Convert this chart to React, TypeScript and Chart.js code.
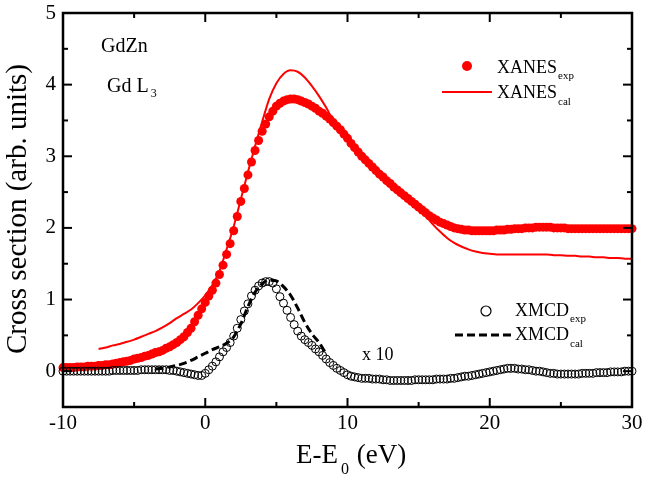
import React, { useEffect, useRef } from "react";
import { Chart, registerables } from "chart.js";

Chart.register(...registerables);

// Energy grid of the experimental spectra (eV, relative to E0)
const ENERGY = [
  -10, -9.75, -9.5, -9.25, -9, -8.75, -8.5, -8.25, -8, -7.75, -7.5, -7.25,
  -7, -6.75, -6.5, -6.25, -6, -5.75, -5.5, -5.25, -5, -4.75, -4.5, -4.25,
  -4, -3.75, -3.5, -3.25, -3, -2.75, -2.5, -2.25, -2, -1.75, -1.5, -1.25,
  -1, -0.75, -0.5, -0.25, 0, 0.25, 0.5, 0.75, 1, 1.25, 1.5, 1.75,
  2, 2.25, 2.5, 2.75, 3, 3.25, 3.5, 3.75, 4, 4.25, 4.5, 4.75,
  5, 5.25, 5.5, 5.75, 6, 6.25, 6.5, 6.75, 7, 7.25, 7.5, 7.75,
  8, 8.25, 8.5, 8.75, 9, 9.25, 9.5, 9.75, 10, 10.25, 10.5, 10.75,
  11, 11.25, 11.5, 11.75, 12, 12.25, 12.5, 12.75, 13, 13.25, 13.5, 13.75,
  14, 14.25, 14.5, 14.75, 15, 15.25, 15.5, 15.75, 16, 16.25, 16.5, 16.75,
  17, 17.25, 17.5, 17.75, 18, 18.25, 18.5, 18.75, 19, 19.25, 19.5, 19.75,
  20, 20.25, 20.5, 20.75, 21, 21.25, 21.5, 21.75, 22, 22.25, 22.5, 22.75,
  23, 23.25, 23.5, 23.75, 24, 24.25, 24.5, 24.75, 25, 25.25, 25.5, 25.75,
  26, 26.25, 26.5, 26.75, 27, 27.25, 27.5, 27.75, 28, 28.25, 28.5, 28.75,
  29, 29.25, 29.5, 29.75, 30,
];

const XANES_EXP = [
  0.05, 0.05, 0.05, 0.05, 0.06, 0.06, 0.06, 0.07, 0.07, 0.07, 0.08, 0.08,
  0.09, 0.09, 0.10, 0.11, 0.12, 0.13, 0.14, 0.15, 0.17, 0.18, 0.19, 0.21,
  0.22, 0.24, 0.26, 0.27, 0.29, 0.32, 0.34, 0.37, 0.40, 0.44, 0.48, 0.54,
  0.60, 0.69, 0.78, 0.87, 0.96, 1.05, 1.13, 1.23, 1.35, 1.48, 1.63, 1.78,
  1.96, 2.16, 2.37, 2.55, 2.74, 2.92, 3.08, 3.22, 3.35, 3.45, 3.55, 3.63,
  3.70, 3.74, 3.77, 3.79, 3.80, 3.80, 3.79, 3.77, 3.75, 3.73, 3.70, 3.67,
  3.63, 3.60, 3.56, 3.52, 3.47, 3.42, 3.37, 3.31, 3.25, 3.18, 3.12, 3.06,
  3.00, 2.95, 2.90, 2.85, 2.80, 2.75, 2.71, 2.66, 2.62, 2.57, 2.53, 2.49,
  2.45, 2.41, 2.37, 2.33, 2.29, 2.25, 2.21, 2.17, 2.14, 2.11, 2.08, 2.06,
  2.04, 2.02, 2.00, 1.99, 1.98, 1.97, 1.97, 1.96, 1.96, 1.96, 1.96, 1.96,
  1.96, 1.96, 1.97, 1.97, 1.97, 1.98, 1.98, 1.99, 1.99, 1.99, 2.00, 2.00,
  2.00, 2.01, 2.01, 2.01, 2.01, 2.01, 2.00, 2.00, 2.00, 2.00, 1.99, 1.99,
  1.99, 1.99, 1.99, 1.99, 1.99, 1.99, 1.99, 1.99, 1.99, 1.99, 1.99, 1.99,
  1.99, 1.99, 1.99, 1.99, 1.99,
];

const XMCD_EXP = [
  0.00, 0.00, 0.00, 0.00, 0.00, 0.00, 0.00, 0.00, 0.00, 0.00, 0.00, 0.00,
  0.00, 0.00, 0.01, 0.01, 0.01, 0.01, 0.01, 0.01, 0.01, 0.01, 0.02, 0.02,
  0.02, 0.02, 0.02, 0.02, 0.02, 0.02, 0.01, 0.01, 0.00, -0.01, -0.02, -0.03,
  -0.04, -0.05, -0.06, -0.06, -0.03, 0.02, 0.07, 0.13, 0.20, 0.27, 0.33, 0.40,
  0.49, 0.60, 0.72, 0.84, 0.94, 1.05, 1.13, 1.19, 1.23, 1.25, 1.25, 1.23,
  1.15, 1.04, 0.95, 0.85, 0.75, 0.65, 0.56, 0.49, 0.44, 0.40, 0.36, 0.31,
  0.27, 0.22, 0.17, 0.12, 0.08, 0.04, 0.01, -0.02, -0.05, -0.07, -0.08, -0.09,
  -0.10, -0.10, -0.10, -0.11, -0.11, -0.11, -0.12, -0.12, -0.13, -0.13, -0.13, -0.13,
  -0.13, -0.13, -0.13, -0.12, -0.12, -0.12, -0.12, -0.12, -0.12, -0.11, -0.11, -0.11,
  -0.11, -0.10, -0.10, -0.09, -0.08, -0.07, -0.07, -0.06, -0.05, -0.04, -0.03, -0.02,
  -0.01, 0.00, 0.01, 0.02, 0.03, 0.04, 0.04, 0.04, 0.03, 0.03, 0.02, 0.02,
  0.01, 0.00, 0.00, -0.01, -0.02, -0.03, -0.03, -0.04, -0.04, -0.04, -0.04, -0.04,
  -0.04, -0.04, -0.03, -0.03, -0.03, -0.03, -0.02, -0.02, -0.02, -0.02, -0.01, -0.01,
  -0.01, -0.01, 0.00, 0.00, 0.00,
];

// Calculated spectra
const XANES_CAL_ENERGY = [
  -7.5, -7, -6.5, -6, -5.5, -5, -4.5, -4, -3.5, -3, -2.5, -2, -1.5, -1, -0.5,
  0, 0.5, 1, 1.5, 2, 2.5, 3, 3.5, 4, 4.5, 5, 5.5, 6, 6.5, 7, 7.5, 8, 8.5, 9, 9.5,
  10, 10.5, 11, 11.5, 12, 12.5, 13, 13.5, 14, 14.5, 15, 15.5, 16, 16.5, 17, 17.5,
  18, 18.5, 19, 19.5, 20, 20.5, 21, 21.5, 22, 22.5, 23, 23.5, 24, 24.5, 25, 25.5,
  26, 26.5, 27, 27.5, 28, 28.5, 29, 29.5, 30,
];
const XANES_CAL = [
  0.31, 0.33, 0.36, 0.38, 0.41, 0.44, 0.48, 0.52, 0.56, 0.61, 0.67, 0.74, 0.80, 0.86, 0.95,
  1.06, 1.20, 1.40, 1.70, 2.02, 2.40, 2.78, 3.14, 3.48, 3.80, 4.02, 4.15, 4.20, 4.18, 4.10, 3.98, 3.84, 3.68, 3.50, 3.36,
  3.24, 3.11, 2.99, 2.89, 2.79, 2.70, 2.61, 2.52, 2.43, 2.35, 2.27, 2.17, 2.05, 1.95, 1.86, 1.79,
  1.74, 1.70, 1.67, 1.65, 1.64, 1.63, 1.63, 1.63, 1.63, 1.63, 1.63, 1.63, 1.63, 1.62, 1.62, 1.61,
  1.61, 1.60, 1.60, 1.59, 1.59, 1.58, 1.58, 1.57, 1.57,
];

const XMCD_CAL_ENERGY = [
  -3.5, -3, -2.5, -2, -1.5, -1, -0.5, 0, 0.5, 1, 1.5, 2, 2.5, 3, 3.5, 4, 4.5, 5,
  5.5, 6, 6.5, 7, 7.5, 8, 8.5,
];
const XMCD_CAL = [
  0.03, 0.04, 0.06, 0.08, 0.11, 0.15, 0.20, 0.25, 0.30, 0.34, 0.39, 0.48, 0.66, 0.90, 1.10, 1.22, 1.27, 1.26,
  1.18, 1.06, 0.88, 0.68, 0.52, 0.40, 0.24,
];

const X_MAJOR = [-10, 0, 10, 20, 30];
const X_MINOR = [-5, 5, 15, 25];
const Y_MAJOR = [0, 1, 2, 3, 4, 5];
const Y_MINOR = [0.5, 1.5, 2.5, 3.5, 4.5];

const SERIF = "'Liberation Serif', 'Times New Roman', serif";
const RED = "#ff0000";

function pairs(xs: number[], ys: number[]) {
  return xs.map((x, i) => ({ x, y: ys[i] }));
}

function drawSub(
  ctx: CanvasRenderingContext2D,
  main: string,
  sub: string,
  x: number,
  base: number,
  size: number,
  subSize: number,
  subDrop: number,
  gap = 1
) {
  ctx.font = `${size}px ${SERIF}`;
  ctx.textAlign = "left";
  ctx.textBaseline = "alphabetic";
  ctx.fillText(main, x, base);
  const w = ctx.measureText(main).width;
  ctx.font = `${subSize}px ${SERIF}`;
  ctx.fillText(sub, x + w + gap, base + subDrop);
  return x + w + gap + ctx.measureText(sub).width;
}

const framePlugin = {
  id: "frameAndText",
  afterDraw(chart: any) {
    const { ctx, chartArea: a, scales } = chart;
    const xs = scales.x;
    const ys = scales.y;
    ctx.save();
    ctx.strokeStyle = "#000";
    ctx.fillStyle = "#000";
    ctx.lineWidth = 2.5;
    ctx.strokeRect(a.left, a.top, a.right - a.left, a.bottom - a.top);

    ctx.lineWidth = 2;
    const seg = (x1: number, y1: number, x2: number, y2: number) => {
      ctx.beginPath();
      ctx.moveTo(x1, y1);
      ctx.lineTo(x2, y2);
      ctx.stroke();
    };
    X_MAJOR.forEach((v) => {
      const p = xs.getPixelForValue(v);
      seg(p, a.bottom, p, a.bottom - 9);
      seg(p, a.top, p, a.top + 9);
    });
    X_MINOR.forEach((v) => {
      const p = xs.getPixelForValue(v);
      seg(p, a.bottom, p, a.bottom - 5);
      seg(p, a.top, p, a.top + 5);
    });
    Y_MAJOR.forEach((v) => {
      const p = ys.getPixelForValue(v);
      seg(a.left, p, a.left + 9, p);
      seg(a.right, p, a.right - 9, p);
    });
    Y_MINOR.forEach((v) => {
      const p = ys.getPixelForValue(v);
      seg(a.left, p, a.left + 5, p);
      seg(a.right, p, a.right - 5, p);
    });

    // Axis titles
    ctx.fillStyle = "#000";
    const end = drawSub(ctx, "E-E", "0", 296, 463, 27, 16, 11, 3);
    ctx.font = `27px ${SERIF}`;
    ctx.fillText(" (eV)", end + 1, 463);

    ctx.save();
    ctx.translate(26, 354);
    ctx.rotate(-Math.PI / 2);
    ctx.font = `29px ${SERIF}`;
    ctx.textAlign = "left";
    ctx.textBaseline = "alphabetic";
    ctx.fillText("Cross section (arb. units)", 0, 0);
    ctx.restore();

    // Annotations
    ctx.font = `20px ${SERIF}`;
    ctx.fillText("GdZn", 101, 52);
    drawSub(ctx, "Gd L", "3", 107, 92, 20, 12, 5, 2);
    ctx.font = `18px ${SERIF}`;
    ctx.fillText("x 10", 362, 360);

    // Legend
    const ds = chart.data.datasets;
    // XANES exp
    ctx.fillStyle = ds[0].backgroundColor;
    ctx.beginPath();
    ctx.arc(467, 66, 5, 0, Math.PI * 2);
    ctx.fill();
    ctx.fillStyle = "#000";
    drawSub(ctx, ds[0].label, "exp", 497, 73, 18, 11, 6, 1);
    // XANES cal
    ctx.strokeStyle = ds[1].borderColor;
    ctx.lineWidth = ds[1].borderWidth;
    seg(442, 92, 492, 92);
    drawSub(ctx, ds[1].label, "cal", 497, 98, 18, 11, 7, 1);
    // XMCD exp
    ctx.strokeStyle = ds[2].borderColor;
    ctx.lineWidth = 1.2;
    ctx.beginPath();
    ctx.arc(486, 311, 5, 0, Math.PI * 2);
    ctx.stroke();
    drawSub(ctx, ds[2].label, "exp", 515, 316, 18, 11, 6, 1);
    // XMCD cal
    ctx.strokeStyle = ds[3].borderColor;
    ctx.lineWidth = ds[3].borderWidth;
    ctx.setLineDash(ds[3].borderDash);
    seg(455, 335, 512, 335);
    ctx.setLineDash([]);
    drawSub(ctx, ds[3].label, "cal", 515, 340, 18, 11, 7, 1);

    ctx.restore();
  },
};

export default function App() {
  const ref = useRef<HTMLCanvasElement | null>(null);

  useEffect(() => {
    if (!ref.current) return;
    const tickFont = { family: SERIF, size: 21 };
    const chart = new Chart(ref.current, {
      type: "scatter",
      data: {
        datasets: [
          {
            label: "XANES",
            data: pairs(ENERGY, XANES_EXP),
            showLine: false,
            pointRadius: 4.5,
            pointBorderWidth: 0,
            backgroundColor: RED,
            borderColor: RED,
            clip: 8,
            order: 3,
          },
          {
            label: "XANES",
            data: pairs(XANES_CAL_ENERGY, XANES_CAL),
            showLine: true,
            pointRadius: 0,
            borderColor: RED,
            backgroundColor: RED,
            borderWidth: 2,
            cubicInterpolationMode: "monotone",
            order: 2,
          },
          {
            label: "XMCD",
            data: pairs(ENERGY, XMCD_EXP),
            showLine: false,
            pointRadius: 4,
            pointBorderWidth: 1,
            pointBackgroundColor: "rgba(0,0,0,0)",
            backgroundColor: "rgba(0,0,0,0)",
            borderColor: "#000",
            clip: 8,
            order: 1,
          },
          {
            label: "XMCD",
            data: pairs(XMCD_CAL_ENERGY, XMCD_CAL),
            showLine: true,
            pointRadius: 0,
            borderColor: "#000",
            backgroundColor: "#000",
            borderWidth: 3,
            borderDash: [8, 4],
            cubicInterpolationMode: "monotone",
            order: 0,
          },
        ],
      } as any,
      options: {
        responsive: false,
        devicePixelRatio: 1,
        animation: false,
        layout: { padding: { left: 0, top: 13, right: 13, bottom: 0 } },
        plugins: {
          legend: { display: false },
          tooltip: { enabled: false },
          title: { display: false },
        },
        scales: {
          x: {
            type: "linear",
            min: -10,
            max: 30,
            grid: { display: false, drawTicks: false },
            border: { display: false },
            ticks: {
              font: tickFont,
              color: "#000",
              padding: 4,
              maxRotation: 0,
              autoSkip: false,
            },
            afterBuildTicks: (s: any) => {
              s.ticks = X_MAJOR.map((v) => ({ value: v }));
            },
            afterFit: (s: any) => {
              s.height = 70;
              s.paddingLeft = 0;
              s.paddingRight = 0;
            },
          },
          y: {
            type: "linear",
            min: -0.5,
            max: 5,
            grid: { display: false, drawTicks: false },
            border: { display: false },
            ticks: {
              font: tickFont,
              color: "#000",
              padding: 7,
            },
            afterBuildTicks: (s: any) => {
              s.ticks = Y_MAJOR.map((v) => ({ value: v }));
            },
            afterFit: (s: any) => {
              s.width = 63;
              s.paddingTop = 0;
              s.paddingBottom = 0;
            },
          },
        },
      } as any,
      plugins: [framePlugin],
    });
    return () => chart.destroy();
  }, []);

  return (
    <div style={{ position: "absolute", left: 0, top: 0, width: 645, height: 477, background: "#fff" }}>
      <canvas ref={ref} width={645} height={477} style={{ display: "block" }} />
    </div>
  );
}
